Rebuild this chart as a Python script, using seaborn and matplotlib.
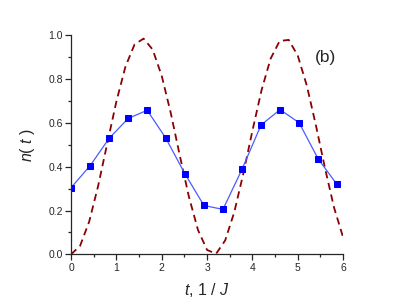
import numpy as np
import pandas as pd
import matplotlib
matplotlib.use("Agg")
import matplotlib.pyplot as plt
import seaborn as sns
from matplotlib.ticker import MultipleLocator

# blue squares
t_pts = [0.0, 0.42, 0.84, 1.26, 1.68, 2.09, 2.51, 2.93, 3.35, 3.77, 4.19, 4.61, 5.03, 5.45, 5.86]
n_pts = [0.304, 0.404, 0.529, 0.620, 0.657, 0.530, 0.368, 0.223, 0.205, 0.388, 0.590, 0.660, 0.600, 0.435, 0.320]

# dashed curve
t_curve = [0.0, 0.2, 0.4, 0.6, 0.8, 1.0, 1.2, 1.4, 1.6, 1.8, 2.0, 2.2, 2.4, 2.6, 2.8, 3.0,
           3.2, 3.4, 3.6, 3.8, 4.0, 4.2, 4.4, 4.6, 4.8, 5.0, 5.2, 5.4, 5.6, 5.8, 6.0]
n_curve = [0.000, 0.039, 0.149, 0.314, 0.507, 0.697, 0.856, 0.957, 0.984, 0.934, 0.814, 0.644,
           0.449, 0.262, 0.111, 0.020, 0.003, 0.064, 0.193, 0.369, 0.564, 0.748, 0.892, 0.973,
           0.978, 0.906, 0.769, 0.588, 0.393, 0.213, 0.077]

sns.set_style("ticks")
plt.rcParams['font.family'] = ['Liberation Sans', 'DejaVu Sans']
plt.rcParams['mathtext.fontset'] = 'custom'
plt.rcParams['mathtext.it'] = 'Liberation Sans:italic'
plt.rcParams['mathtext.rm'] = 'Liberation Sans'

df_pts = pd.DataFrame({"t": t_pts, "n": n_pts})
df_curve = pd.DataFrame({"t": t_curve, "n": n_curve})

fig = plt.figure(figsize=(3.99, 3.05), dpi=100)
ax = fig.add_axes([0.178, 0.166, 0.682, 0.719])

sns.lineplot(data=df_curve, x="t", y="n", ax=ax, color="#8b0000", linewidth=1.3)
curve_line = ax.get_lines()[-1]
curve_line.set_dashes([4, 2.6])
curve_line.set_dash_capstyle("butt")

sns.lineplot(data=df_pts, x="t", y="n", ax=ax, color="#4a5cff", linewidth=0.9,
             marker="s", markersize=4, markerfacecolor="#0000ff", markeredgecolor="#0000ff")

ax.set_xlim(0, 6)
ax.set_ylim(0, 1.0)
ax.xaxis.set_major_locator(MultipleLocator(1))
ax.xaxis.set_minor_locator(MultipleLocator(0.5))
ax.yaxis.set_major_locator(MultipleLocator(0.2))
ax.yaxis.set_minor_locator(MultipleLocator(0.1))
ax.yaxis.set_major_formatter(matplotlib.ticker.FormatStrFormatter('%.1f'))

ax.tick_params(which='major', direction='out', length=4, width=0.9, labelsize=7.5, pad=2)
ax.tick_params(which='minor', direction='out', length=2.5, width=0.9)
for side in ["left", "bottom"]:
    ax.spines[side].set_linewidth(0.9)
sns.despine(ax=ax)

ax.set_xlabel(r"$\it{t}$, 1 / $\it{J}$", fontsize=11.5, labelpad=6)
ax.set_ylabel(r"$\it{n}$( $\it{t}$ )", fontsize=11.5, labelpad=8)
ax.text(5.62, 0.90, "(b)", fontsize=12.5, ha="center", va="center")

fig.savefig("out.png", dpi=100)
